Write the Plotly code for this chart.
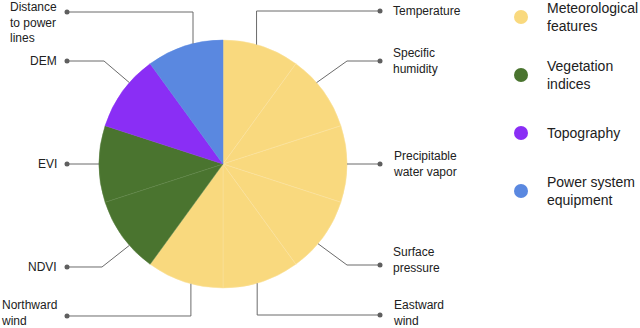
import math
import plotly.graph_objects as go

# ---- data ----
features = ["Temperature", "Specific humidity", "Precipitable water vapor",
            "Surface pressure", "Eastward wind", "Northward wind",
            "NDVI", "EVI", "DEM", "Distance to power lines"]
feature_labels = ["Temperature", "Specific<br>humidity", "Precipitable<br>water vapor",
                  "Surface<br>pressure", "Eastward<br>wind", "Northward<br>wind",
                  "NDVI", "EVI", "DEM", "Distance<br>to power<br>lines"]
feature_values = [1, 1, 1, 1, 1, 1, 1, 1, 1, 1]
feature_groups = ["Meteorological features"] * 6 + ["Vegetation indices"] * 2 + \
                 ["Topography"] + ["Power system equipment"]
group_names = ["Meteorological features", "Vegetation indices", "Topography",
               "Power system equipment"]
group_legend_text = ["Meteorological<br>features", "Vegetation<br>indices", "Topography",
                     "Power system<br>equipment"]

# ---- style / layout ----
W, H = 640, 328
group_colors = {"Meteorological features": "#F9D97E", "Vegetation indices": "#4A742F",
                "Topography": "#8A2EF5", "Power system equipment": "#5A88E0"}
group_sep = {"Meteorological features": "#FBE2A0", "Vegetation indices": "#5F8447",
             "Topography": "#8A2EF5", "Power system equipment": "#5A88E0"}
CX, CY, R = 223, 164, 124
LINE_COL = "#6b6b6b"
TEXT_COL = "#212121"
FONT = "Liberation Sans, Arial, sans-serif"

# leader layout per feature: (side, dot_y, kind, knee_x, text_y, anchor angle shift deg)
leader_layout = [
    ("r", 11, "v", None, 11, -2.3),
    ("r", 61, "d", 347, 61, -5),
    ("r", 164, "h", None, 164, 0),
    ("r", 265, "d", 347, 260, 4),
    ("r", 315, "v", None, 313, 2),
    ("l", 316, "v", None, 313, -3),
    ("l", 267, "d", 102, 267, -5),
    ("l", 164, "h", None, 164, 0),
    ("l", 61, "d", 104, 61, 5),
    ("l", 12, "v", None, 22, 4),
]
DOT_X = {"r": 380, "l": 67}
TEXT_X = {"r": 391, "l": 59}


def px(x):
    return x / W


def py(y):
    return 1 - y / H


fig = go.Figure()
fig.add_trace(go.Pie(
    labels=features, values=feature_values, sort=False, direction="clockwise",
    rotation=0, textinfo="none", hoverinfo="label",
    marker=dict(colors=[group_colors[g] for g in feature_groups],
                line=dict(color=[group_sep[g] for g in feature_groups], width=0.5)),
    domain=dict(x=[px(CX - R), px(CX + R)], y=[py(CY + R), py(CY - R)]),
    showlegend=False,
))

shapes = []
annotations = []
total = sum(feature_values)
cum = 0
for i, v in enumerate(feature_values):
    side, dy, kind, kx, ty, shift = leader_layout[i]
    mid = (cum + v / 2) / total * 2 * math.pi + math.radians(shift)
    cum += v
    sx = CX + R * math.sin(mid)
    sy = CY - R * math.cos(mid)
    dx = DOT_X[side]
    if kind == "v":
        pts = [(sx, sy), (sx, dy), (dx, dy)]
    elif kind == "d":
        pts = [(sx, sy), (kx, dy), (dx, dy)]
    else:
        pts = [(sx, dy), (dx, dy)]
    path = "M " + " L ".join(f"{px(a):.5f},{py(b):.5f}" for a, b in pts)
    shapes.append(dict(type="path", xref="paper", yref="paper", path=path,
                       line=dict(color=LINE_COL, width=1)))
    shapes.append(dict(type="circle", xref="paper", yref="paper",
                       x0=px(dx - 2.5), x1=px(dx + 2.5), y0=py(dy + 2.5), y1=py(dy - 2.5),
                       fillcolor="#5f5f5f", line=dict(width=0)))
    annotations.append(dict(
        x=px(TEXT_X[side]), y=py(ty), xref="paper", yref="paper",
        text=feature_labels[i], showarrow=False, align="left",
        xanchor="left" if side == "r" else "right", yanchor="middle",
        font=dict(family=FONT, size=12, color=TEXT_COL)))

# custom legend
LEG_X, LEG_Y0, LEG_DY, LEG_R = 521, 17, 58, 7
for j, g in enumerate(group_names):
    yy = LEG_Y0 + j * LEG_DY
    shapes.append(dict(type="circle", xref="paper", yref="paper",
                       x0=px(LEG_X - LEG_R), x1=px(LEG_X + LEG_R),
                       y0=py(yy + LEG_R), y1=py(yy - LEG_R),
                       fillcolor=group_colors[g], line=dict(width=0)))
    annotations.append(dict(
        x=px(545), y=py(yy), xref="paper", yref="paper", text=group_legend_text[j],
        showarrow=False, align="left", xanchor="left", yanchor="middle",
        font=dict(family=FONT, size=14, color=TEXT_COL)))

fig.update_layout(width=W, height=H, margin=dict(l=0, r=0, t=0, b=0),
                  paper_bgcolor="white", plot_bgcolor="white",
                  shapes=shapes, annotations=annotations, showlegend=False)
fig.write_html("out.html", config={"displayModeBar": False},
               post_script="document.body.style.margin='0px';"
                           "document.body.style.overflow='hidden';")
